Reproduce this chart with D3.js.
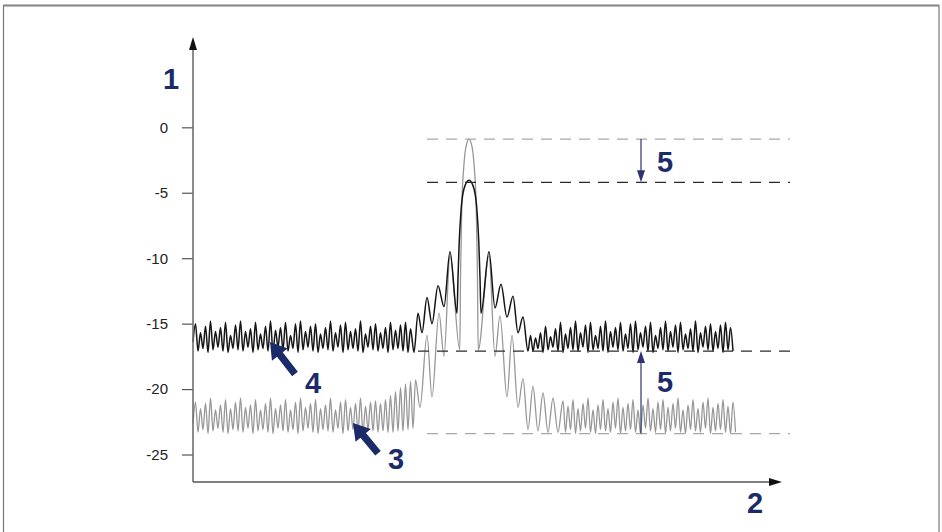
<!DOCTYPE html>
<html>
<head>
<meta charset="utf-8">
<script src="https://cdn.jsdelivr.net/npm/d3@7"></script>
<style>
  html, body { margin: 0; padding: 0; background: #fff; }
  svg { display: block; font-family: "Liberation Sans", Arial, sans-serif; }
</style>
</head>
<body>
<div id="chart"></div>
<script>
// level axis ticks (dB)
const yTicks = [0, -5, -10, -15, -20, -25];

// black trace (4): noise left of the peak, lows then highs
const blackLeftLows = [
  -16.4, -17.1, -16.9, -17.2, -17.0, -16.8, -17.1, -17.2, -16.9, -17.0,
  -17.1, -16.8, -17.2, -17.0, -16.9, -17.1, -17.2, -16.8, -17.0, -17.1,
  -16.9, -17.2, -17.0, -16.8, -17.1, -17.2, -16.9, -17.0, -17.1, -16.8,
  -17.2, -17.0, -16.9, -17.1, -17.2, -16.8, -17.0, -17.1, -16.9, -17.2,
  -17.0, -16.9, -17.1, -17.2
];
const blackLeftHighs = [
  -15.0, -15.7, -15.2, -14.8, -15.6, -15.3, -14.9, -15.9, -15.1, -14.8,
  -15.6, -15.4, -14.9, -15.8, -15.2, -14.8, -15.5, -15.3, -14.9, -15.9,
  -15.0, -14.8, -15.6, -15.2, -15.0, -15.8, -15.3, -14.8, -15.7, -15.1,
  -14.9, -15.6, -15.4, -14.8, -15.8, -15.2, -15.0, -15.7, -15.3, -14.9,
  -15.5, -15.1, -14.9, -15.4
];
// black trace around the carrier: [offset, level]
const blackCentre = [
  [-5.5, -17.2], [-5.1, -14.2], [-4.7, -15.7], [-4.2, -13.0], [-3.7, -15.0],
  [-3.1, -12.1], [-2.5, -13.7], [-1.9, -9.5], [-1.2, -14.2], [-1.1, -11.5],
  [-0.98, -8.8], [-0.82, -6.6], [-0.5, -4.7], [0, -4.05], [0.5, -4.7],
  [0.82, -6.6], [0.98, -8.8], [1.1, -11.5], [1.2, -14.2],
  [2.0, -9.5], [2.6, -13.8], [3.2, -12.0], [3.8, -14.5], [4.4, -12.9],
  [4.9, -15.7], [5.4, -14.5], [5.9, -17.1]
];
const blackRightHighs = [
  -15.9, -16.1, -15.7, -15.2, -16.0, -15.4, -14.9, -15.8, -15.3, -14.8,
  -15.7, -15.1, -14.9, -15.9, -15.2, -14.8, -15.6, -15.3, -14.9, -15.8,
  -15.0, -14.8, -15.7, -15.2, -14.9, -15.9, -15.3, -14.8, -15.6, -15.1,
  -14.9, -15.8, -15.4, -14.8, -15.7, -15.2, -15.0, -15.6, -15.1, -14.9,
  -15.3
];
const blackRightLows = [
  -17.1, -16.9, -17.2, -17.0, -16.8, -17.1, -17.2, -16.9, -17.0, -17.1,
  -16.8, -17.2, -17.0, -16.9, -17.1, -17.2, -16.8, -17.0, -17.1, -16.9,
  -17.2, -17.0, -16.8, -17.1, -17.2, -16.9, -17.0, -17.1, -16.8, -17.2,
  -17.0, -16.9, -17.1, -17.2, -16.8, -17.0, -17.1, -16.9, -17.2, -17.0,
  -17.1
];

// gray trace (3)
const grayLeftLows = [
  -22.6, -23.3, -23.1, -23.4, -23.2, -23.0, -23.3, -23.4, -23.1, -23.2,
  -23.3, -23.0, -23.4, -23.2, -23.1, -23.3, -23.4, -23.0, -23.2, -23.3,
  -23.1, -23.4, -23.2, -23.0, -23.3, -23.4, -23.1, -23.2, -23.3, -23.0,
  -23.4, -23.2, -23.1, -23.3, -23.4, -23.1, -23.2, -23.3, -23.2, -23.3,
  -23.3, -23.2, -23.2, -23.1
];
const grayLeftHighs = [
  -21.0, -21.5, -21.1, -20.7, -21.6, -21.2, -20.8, -21.5, -21.0, -20.7,
  -21.4, -21.2, -20.8, -21.6, -21.1, -20.7, -21.5, -21.2, -20.8, -21.6,
  -21.0, -20.7, -21.4, -21.1, -20.8, -21.5, -21.2, -20.7, -21.6, -21.0,
  -20.8, -21.4, -21.1, -20.7, -21.3, -21.0, -20.9, -21.1, -20.8, -20.5,
  -20.2, -19.9, -19.6, -19.4
];
const grayCentre = [
  [-5.6, -23.0], [-5.35, -19.3], [-4.9, -21.4], [-4.2, -15.9], [-3.7, -20.6],
  [-3.0, -14.2], [-2.5, -17.5], [-1.9, -9.8], [-0.92, -17.0], [-0.84, -11.0],
  [-0.72, -6.0], [-0.52, -3.0], [-0.28, -1.4], [0, -0.9], [0.28, -1.4],
  [0.52, -3.0], [0.72, -6.0], [0.84, -11.0], [0.92, -17.0],
  [2.0, -9.8], [2.6, -17.5], [3.1, -14.4], [3.8, -20.6], [4.3, -15.9],
  [4.9, -21.4], [5.4, -19.2], [5.9, -23.1], [6.4, -19.8], [6.9, -23.2],
  [7.4, -20.3], [7.9, -23.3], [8.4, -20.7], [8.9, -23.3]
];
const grayRightHighs = [
  -20.9, -21.3, -20.8, -21.5, -21.1, -20.7, -21.6, -21.2, -20.8, -21.5,
  -21.0, -20.7, -21.4, -21.1, -20.8, -21.6, -21.2, -20.7, -21.5, -21.0,
  -20.8, -21.4, -21.1, -20.7, -21.6, -21.2, -20.8, -21.5, -21.0, -20.7,
  -21.4, -21.1, -20.8, -21.3, -21.0
];
const grayRightLows = [
  -23.3, -23.1, -23.4, -23.2, -23.0, -23.3, -23.4, -23.1, -23.2, -23.3,
  -23.0, -23.4, -23.2, -23.1, -23.3, -23.4, -23.0, -23.2, -23.3, -23.1,
  -23.4, -23.2, -23.0, -23.3, -23.4, -23.1, -23.2, -23.3, -23.0, -23.4,
  -23.2, -23.1, -23.3, -23.4, -23.3
];

// dashed reference levels
const refLevels = [-0.9, -4.2, -17.1, -23.4];
const refStarts = [-4.2, -4.2, -5.1, -4.2];
const refEnd = 32.1;

// callouts
const fatArrows = [
  { label: "4", tip: [-19.9, -16.4], tail: [-17.4, -18.85], text: [-15.6, -20.3] },
  { label: "3", tip: [-11.6, -22.6], tail: [-9.1, -24.9], text: [-7.3, -26.1] }
];
const deltaX = 17.2;

const width = 942, height = 532;
const navy = "#1b2b69";

const svg = d3.select("#chart").append("svg")
  .attr("width", width)
  .attr("height", height);

// frame
svg.append("rect")
  .attr("x", 3.5).attr("y", 5.5)
  .attr("width", 935.5).attr("height", 540)
  .attr("fill", "none")
  .attr("stroke", "#7a7a7a")
  .attr("stroke-width", 1.2);
svg.append("line")
  .attr("x1", 3).attr("x2", 939).attr("y1", 5.5).attr("y2", 5.5)
  .attr("stroke", "#888").attr("stroke-width", 2);

const x = d3.scaleLinear().domain([-27.6, 31.2]).range([193, 781]);
const y = d3.scaleLinear().domain([-27.1, 6.9]).range([482, 37]);

function zigzag(x0, first, second) {
  const pts = [];
  first.forEach((v, i) => {
    pts.push([x0 + i * 0.5, v]);
    if (i < second.length) pts.push([x0 + i * 0.5 + 0.25, second[i]]);
  });
  return pts;
}

const blackTrace = [
  ...zigzag(-27.6, blackLeftLows, blackLeftHighs),
  ...blackCentre,
  ...zigzag(6.15, blackRightHighs, blackRightLows)
];
const grayTrace = [
  ...zigzag(-27.6, grayLeftLows, grayLeftHighs),
  ...grayCentre,
  ...zigzag(9.4, grayRightHighs, grayRightLows)
];

const line = d3.line()
  .x(d => x(d[0]))
  .y(d => y(d[1]))
  .curve(d3.curveMonotoneX);

const plot = svg.append("g");

plot.append("path")
  .datum(grayTrace)
  .attr("d", line)
  .attr("fill", "none")
  .attr("stroke", "#979797")
  .attr("stroke-width", 1.3);

plot.append("path")
  .datum(blackTrace)
  .attr("d", line)
  .attr("fill", "none")
  .attr("stroke", "#151515")
  .attr("stroke-width", 1.5);

// dashed levels
plot.selectAll("line.ref")
  .data(refLevels)
  .join("line")
  .attr("class", "ref")
  .attr("x1", (d, i) => x(refStarts[i]))
  .attr("x2", x(refEnd))
  .attr("y1", d => y(d))
  .attr("y2", d => y(d))
  .attr("stroke", (d, i) => (i === 0 || i === 3) ? "#a8a8a8" : "#2a2a2a")
  .attr("stroke-width", 1.3)
  .attr("stroke-dasharray", "11,8");

// axes
const yAxis = svg.append("g")
  .attr("transform", `translate(${x(-27.6)},0)`)
  .call(d3.axisLeft(y).tickValues(yTicks).tickSize(11).tickPadding(14).tickFormat(d => String(d)));
yAxis.select(".domain").remove();
yAxis.selectAll(".tick line").attr("stroke", "#555").attr("stroke-width", 1.2);
yAxis.selectAll(".tick text")
  .attr("fill", "#222")
  .style("font-size", "15px")
  .style("font-family", "'Liberation Sans', Arial, sans-serif");

const x0 = x(-27.6), yb = y(-27.1);
svg.append("line")
  .attr("x1", x0).attr("x2", x0).attr("y1", yb).attr("y2", 48)
  .attr("stroke", "#6e6e6e").attr("stroke-width", 1.6);
svg.append("path")
  .attr("d", `M${x0},37 L${x0 - 4},50 L${x0 + 4},50 Z`)
  .attr("fill", "#111");
svg.append("line")
  .attr("x1", x0).attr("x2", 771).attr("y1", yb).attr("y2", yb)
  .attr("stroke", "#555").attr("stroke-width", 1.6);
svg.append("path")
  .attr("d", `M782,${yb} L769,${yb - 4} L769,${yb + 4} Z`)
  .attr("fill", "#111");

// axis labels
const bigText = (t, px, py) => svg.append("text")
  .attr("x", px).attr("y", py)
  .attr("text-anchor", "middle")
  .attr("fill", navy)
  .style("font-size", "29px")
  .style("font-weight", "bold")
  .text(t);

bigText("1", 171, 89);
bigText("2", 755, 513);

// level difference arrows
const deltaColor = "#2e3172";
function deltaArrow(from, to) {
  const px = x(deltaX), y1 = y(from), y2 = y(to);
  const dir = Math.sign(y2 - y1);
  svg.append("line")
    .attr("x1", px).attr("x2", px)
    .attr("y1", y1).attr("y2", y2 - dir * 10)
    .attr("stroke", deltaColor).attr("stroke-width", 1.2);
  svg.append("path")
    .attr("d", `M${px},${y2} L${px - 4},${y2 - dir * 12} L${px + 4},${y2 - dir * 12} Z`)
    .attr("fill", deltaColor);
}
deltaArrow(-0.9, -4.2);
deltaArrow(-23.4, -17.1);
bigText("5", x(deltaX) + 24, y(-3.4));
bigText("5", x(deltaX) + 24, y(-20.2));

// fat callout arrows
fatArrows.forEach(a => {
  const tx = x(a.tip[0]), ty = y(a.tip[1]);
  const sx = x(a.tail[0]), sy = y(a.tail[1]);
  const ang = Math.atan2(ty - sy, tx - sx);
  const len = Math.hypot(tx - sx, ty - sy);
  const headLen = 16, headW = 10, shaftW = 3.6;
  const g = svg.append("g")
    .attr("transform", `translate(${sx},${sy}) rotate(${ang * 180 / Math.PI})`);
  g.append("path")
    .attr("d", `M0,${-shaftW} L${len - headLen},${-shaftW} L${len - headLen},${-headW} L${len},0 ` +
      `L${len - headLen},${headW} L${len - headLen},${shaftW} L0,${shaftW} Z`)
    .attr("fill", navy);
  bigText(a.label, x(a.text[0]), y(a.text[1]));
});
</script>
</body>
</html>
